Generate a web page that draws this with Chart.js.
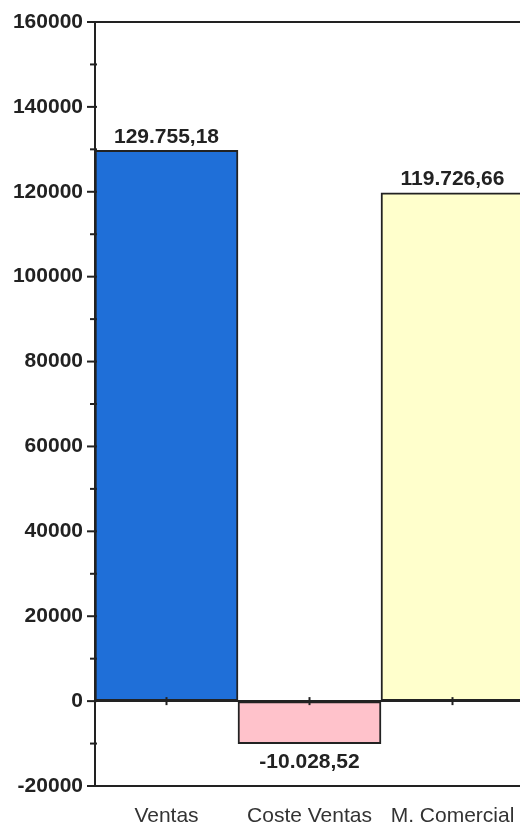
<!DOCTYPE html>
<html>
<head>
<meta charset="utf-8">
<script src="https://cdn.jsdelivr.net/npm/chart.js@4.4.1/dist/chart.umd.min.js"></script>
<style>
  html, body { margin: 0; padding: 0; background: #fff; overflow: hidden; }
  /* a little wider than the window so the last bar runs off the right edge */
  #wrap { width: 524px; height: 827px; position: relative; }
</style>
</head>
<body>
<div id="wrap"><canvas id="margenChart"></canvas></div>
<script>
const categories = ['Ventas', 'Coste Ventas', 'M. Comercial'];
const values = [129755.18, -10028.52, 119726.66];
const barColors = ['#1f6fd8', '#ffc2cb', '#ffffcc'];
const yMin = -20000;
const yMax = 160000;
const yStep = 20000;
const yMinorStep = 10000;

const ink = '#222';

// 129755.18 -> "129.755,18"
function fmtEs(v) {
  const parts = Math.abs(v).toFixed(2).split('.');
  const intPart = parts[0].replace(/\B(?=(\d{3})+(?!\d))/g, '.');
  return (v < 0 ? '-' : '') + intPart + ',' + parts[1];
}

const framePlugin = {
  id: 'frame',
  afterDatasetsDraw(chart) {
    const { ctx, chartArea, scales } = chart;
    const y = scales.y;
    const x = scales.x;
    ctx.save();
    ctx.strokeStyle = ink;
    ctx.lineWidth = 2;

    // top frame line
    ctx.beginPath();
    ctx.moveTo(chartArea.left, chartArea.top);
    ctx.lineTo(chartArea.right, chartArea.top);
    ctx.stroke();

    // zero line
    const y0 = y.getPixelForValue(0);
    ctx.beginPath();
    ctx.moveTo(chartArea.left, y0);
    ctx.lineTo(chartArea.right, y0);
    ctx.stroke();

    // major and minor ticks on the y axis
    for (let v = yMin; v <= yMax; v += yMinorStep) {
      const py = y.getPixelForValue(v);
      const major = v % yStep === 0;
      ctx.beginPath();
      ctx.moveTo(chartArea.left - (major ? 8 : 5), py);
      ctx.lineTo(chartArea.left + 2, py);
      ctx.stroke();
    }

    // small category ticks on the zero line
    categories.forEach((c, i) => {
      const px = x.getPixelForValue(i);
      ctx.beginPath();
      ctx.moveTo(px, y0 - 4);
      ctx.lineTo(px, y0 + 4);
      ctx.stroke();
    });

    // value labels
    ctx.fillStyle = ink;
    ctx.font = 'bold 21px "Liberation Sans", Arial, sans-serif';
    ctx.textAlign = 'center';
    const meta = chart.getDatasetMeta(0);
    meta.data.forEach((bar, i) => {
      const v = values[i];
      if (v >= 0) {
        ctx.textBaseline = 'bottom';
        ctx.fillText(fmtEs(v), bar.x, bar.y - 3);
      } else {
        ctx.textBaseline = 'top';
        ctx.fillText(fmtEs(v), bar.x, bar.y + 8);
      }
    });
    ctx.restore();
  }
};

new Chart(document.getElementById('margenChart'), {
  type: 'bar',
  data: {
    labels: categories,
    datasets: [{
      data: values,
      backgroundColor: barColors,
      borderColor: ink,
      borderWidth: 2,
      borderSkipped: false,
      barPercentage: 1,
      categoryPercentage: 1
    }]
  },
  options: {
    responsive: true,
    maintainAspectRatio: false,
    animation: false,
    devicePixelRatio: 1,
    layout: { padding: { top: 22, left: 0, right: 0, bottom: 0 } },
    plugins: {
      legend: { display: false },
      tooltip: { enabled: false }
    },
    scales: {
      x: {
        grid: { display: false },
        border: { display: true, color: ink, width: 2 },
        ticks: {
          color: '#333',
          padding: 10,
          maxRotation: 0,
          font: { family: '"Liberation Sans", Arial, sans-serif', size: 21 }
        },
        afterFit(scale) {
          scale.height = 41;
          scale.paddingLeft = 0;
          scale.paddingRight = 0;
        }
      },
      y: {
        min: yMin,
        max: yMax,
        grid: { drawOnChartArea: false, drawTicks: false },
        border: { display: true, color: ink, width: 2 },
        ticks: {
          stepSize: yStep,
          color: '#222',
          padding: 12,
          callback: v => String(v),
          font: { family: '"Liberation Sans", Arial, sans-serif', size: 21, weight: 'bold' }
        },
        afterFit(scale) {
          scale.width = 95;
          scale.paddingTop = 0;
          scale.paddingBottom = 0;
        }
      }
    }
  },
  plugins: [framePlugin]
});
</script>
</body>
</html>
